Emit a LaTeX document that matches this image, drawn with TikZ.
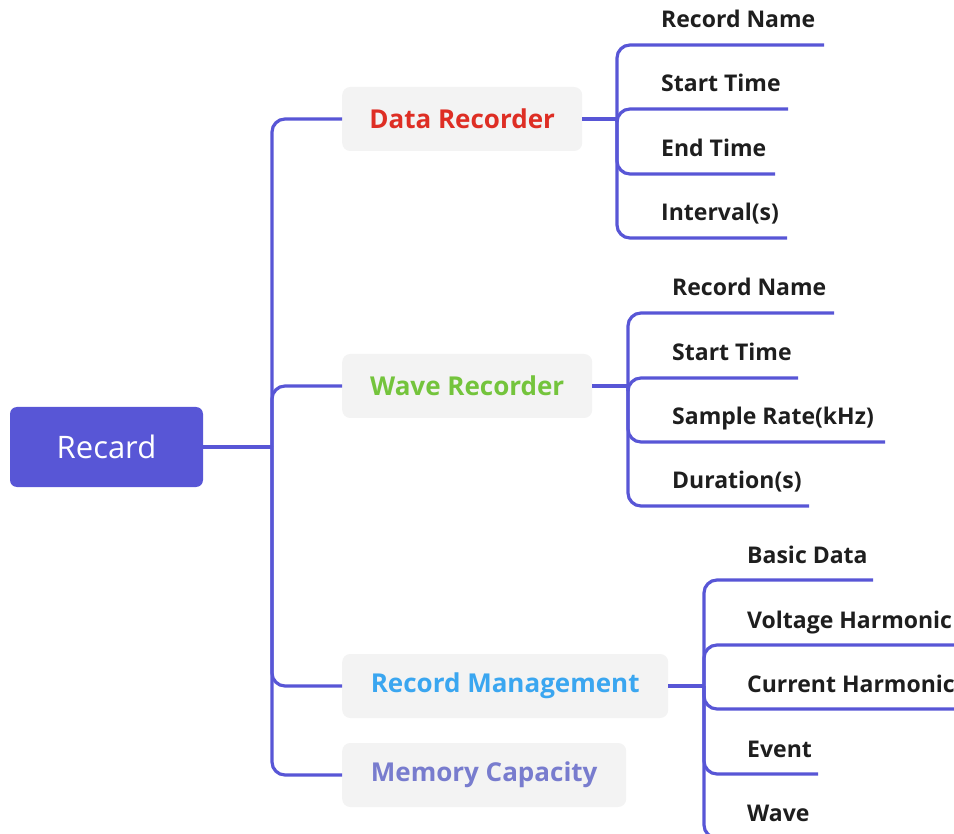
\documentclass[tikz,border=0pt]{standalone}
\usepackage{fontspec}
\setmainfont{Open Sans}
\definecolor{lnc}{RGB}{88,86,214}
\definecolor{boxc}{RGB}{243,243,243}
\definecolor{redc}{RGB}{222,46,36}
\definecolor{greenc}{RGB}{116,196,60}
\definecolor{bluec}{RGB}{58,166,240}
\definecolor{lavc}{RGB}{120,124,206}
\definecolor{leafc}{RGB}{30,30,30}
\tikzset{
  conn/.style={draw=lnc, line width=3.2pt, rounded corners=13pt},
  rootbox/.style={fill=lnc, rounded corners=7pt, text=white, font=\fontsize{31}{35}\selectfont, minimum width=193pt, minimum height=80pt, inner sep=0pt},
  branchbox/.style={fill=boxc, rounded corners=8pt, font=\fontsize{26}{30}\selectfont\bfseries, minimum height=64pt, inner sep=0pt, anchor=west},
  leaftext/.style={font=\fontsize{23}{27}\selectfont\bfseries, text=leafc, anchor=base west, inner sep=0pt}
}
\begin{document}
\begin{tikzpicture}[x=1pt,y=-1pt]
\useasboundingbox (0,0) rectangle (954,834);
\clip (0,0) rectangle (954,834);

% root and trunk
\node[rootbox] (root) at (106.5,447) {Recard};
\coordinate (j0) at (272,447);

% branches
\node[branchbox, text=redc, minimum width=240pt] (dr) at (342,119) {Data Recorder};
\node[branchbox, text=greenc, minimum width=250pt] (wr) at (342,386) {Wave Recorder};
\node[branchbox, text=bluec, minimum width=326pt] (rm) at (342,686) {Record Management};
\node[branchbox, text=lavc, minimum width=284pt] (mc) at (342,775) {Memory Capacity};

\path[conn] (root.east) -- (j0);
\path[conn] (j0) |- (dr.west);
\path[conn] (j0) |- (wr.west);
\path[conn] (j0) |- (rm.west);
\path[conn] (j0) |- (mc.west);

% junctions
\coordinate (jd) at (617,119);
\coordinate (jw) at (628,386);
\coordinate (jr) at (704,686);
\path[conn] (dr.east) -- (jd);
\path[conn] (wr.east) -- (jw);
\path[conn] (rm.east) -- (jr);

% Data Recorder leaves
\node[leaftext] (d1) at (661,28) {Record Name};
\node[leaftext] (d2) at (661,92) {Start Time};
\node[leaftext] (d3) at (661,157) {End Time};
\node[leaftext] (d4) at (661,221) {Interval(s)};
\coordinate (d1e) at (824,45);
\coordinate (d2e) at (788,109);
\coordinate (d3e) at (775,174);
\coordinate (d4e) at (787,238);
\foreach \e in {d1e,d2e,d3e,d4e} \path[conn] (jd) |- (\e);

% Wave Recorder leaves
\node[leaftext] (w1) at (672,296) {Record Name};
\node[leaftext] (w2) at (672,361) {Start Time};
\node[leaftext] (w3) at (672,425) {Sample Rate(kHz)};
\node[leaftext] (w4) at (672,489) {Duration(s)};
\coordinate (w1e) at (834,313);
\coordinate (w2e) at (798,378);
\coordinate (w3e) at (885,442);
\coordinate (w4e) at (809,506);
\foreach \e in {w1e,w2e,w3e,w4e} \path[conn] (jw) |- (\e);

% Record Management leaves
\node[leaftext] (r1) at (747,563) {Basic Data};
\node[leaftext] (r2) at (747,628) {Voltage Harmonic};
\node[leaftext] (r3) at (747,692) {Current Harmonic};
\node[leaftext] (r4) at (747,757) {Event};
\node[leaftext] (r5) at (747,821) {Wave};
\coordinate (r1e) at (873,580);
\coordinate (r2e) at (970,645);
\coordinate (r3e) at (970,709);
\coordinate (r4e) at (818,774);
\coordinate (r5e) at (815,838);
\foreach \e in {r1e,r2e,r3e,r4e,r5e} \path[conn] (jr) |- (\e);
\end{tikzpicture}
\end{document}
